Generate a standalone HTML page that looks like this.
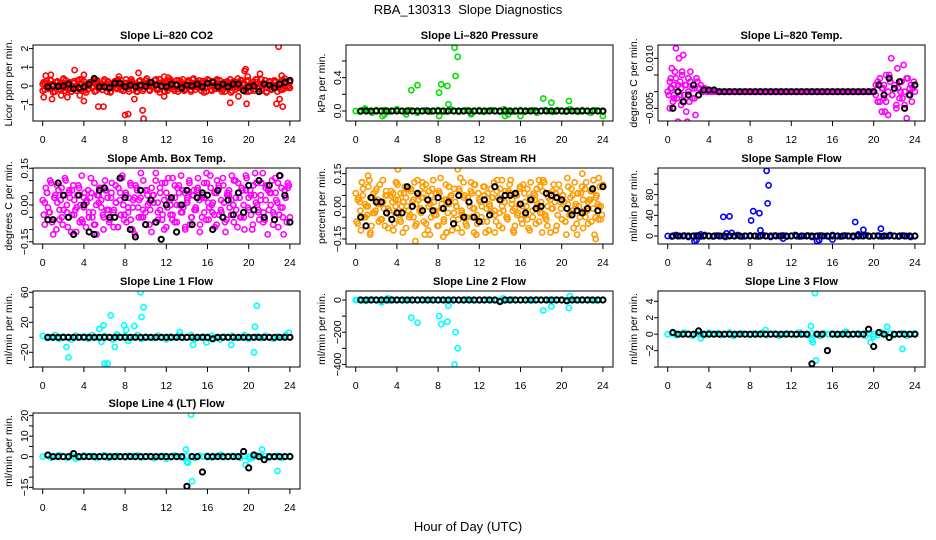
<!DOCTYPE html>
<html><head><meta charset="utf-8"><title>RBA_130313 Slope Diagnostics</title>
<style>
html,body{margin:0;padding:0;background:#fff;}
svg{display:block;font-family:"Liberation Sans",Arial,sans-serif;}
</style></head>
<body>
<svg id="chart" width="936" height="540" viewBox="0 0 936 540" xmlns="http://www.w3.org/2000/svg">
<rect x="0" y="0" width="936" height="540" fill="#fff"/>
<text x="468" y="14" text-anchor="middle" font-size="13">RBA_130313&#160; Slope Diagnostics</text>
<text x="468" y="531" text-anchor="middle" font-size="13">Hour of Day (UTC)</text>
</svg>
<script>
// ---------- data ----------
const xTicks = [0,4,8,12,16,20,24];

// CO2 (ppm/min)
const co2Band1 = [0.1,-0.2,0.25,-0.1,0.3,0,-0.3,0.2,-0.15,0.1,0.35,-0.25,0.05,0.2,-0.3,0.15,-0.05,0.3,-0.2,0.1,0.25,-0.35,0,0.2,-0.1,0.3,-0.25,0.15,0.05,-0.2,0.35,-0.1,0.2,-0.3,0.1,0.25,-0.15,0,0.3,-0.25,0.15,-0.05,0.2,0.35,-0.2,0.1,-0.3,0.25,0,-0.15,0.3,0.1,-0.25,0.2,-0.05,0.35,-0.2,0.15,0,-0.3,0.25,-0.1,0.2,0.05,-0.25,0.3,-0.15,0.1,0.35,-0.2,0,0.25,-0.3,0.15,-0.05,0.2,0.3,-0.25,0.1,-0.1,0.35,0,-0.2,0.25,-0.15,0.1,0.3,-0.3,0.2,-0.05,0.15,0.35,-0.25,0,0.2,-0.1,0.3,-0.2,0.1,0.25,-0.3,0.05,0.2,-0.15,0.35,0,-0.25,0.15,0.3,-0.1,0.2,-0.2,0.05,0.25,-0.3,0.1,0.3,-0.15,0.2,0,-0.1];
const co2Band2 = [-0.25,0.15,-0.05,0.3,-0.35,0.2,0.05,-0.2,0.4,-0.1,0.15,-0.3,0.25,0,-0.15,0.35,-0.25,0.1,0.2,-0.05,-0.3,0.3,0.1,-0.2,0.05,0.25,-0.35,0.15,-0.1,0.3,0,-0.25,0.35,-0.15,0.2,0.05,-0.3,0.25,-0.05,0.1,0.4,-0.2,0,0.3,-0.1,-0.35,0.2,0.15,-0.25,0.35,-0.05,0.1,-0.3,0.25,0.05,-0.15,0.3,-0.2,0.4,0,-0.1,0.2,-0.35,0.15,0.3,-0.25,0.05,0.35,-0.15,0.1,-0.3,0.25,0,0.2,-0.2,0.4,-0.05,0.15,-0.3,0.3,0.1,-0.25,0.2,-0.1,0.35,0.05,-0.35,0.25,-0.15,0.3,0,0.1,-0.2,0.4,-0.05,0.2];
const co2Band3 = [0.2,0,-0.15,0.1,-0.3,0.25,0.05,-0.1,0.3,-0.2,0,0.15,-0.25,0.35,0.1,-0.05,-0.2,0.2,0,0.3,-0.15,0.05,0.25,-0.3,0.1,-0.1,0.2,0.35,-0.2,0,0.15,-0.3,0.25,0.05,-0.1,0.3,-0.25,0.1,0.2,-0.05,0,-0.2,0.35,0.15,-0.3,0.05,0.25,-0.15,0.1,0.3,-0.1,-0.25,0.2,0,0.35,-0.2,0.1,-0.05,0.25,-0.3,0.15,0.05,-0.15,0.3,0,-0.2,0.2,0.1,-0.35,0.25,-0.05,0.15,0.3,-0.1,0,-0.25,0.2,0.35,-0.15,0.05,0.1,-0.3,0.25,-0.05,0.2,0,-0.2,0.3,0.15,-0.1];
const co2OutT = [0.1,0.3,0.8,0.9,1.8,2.4,3.1,3.6,4.0,4.0,5.4,5.9,7.4,8.0,8.3,8.9,9.3,9.7,9.8,11.8,11.8,12.2,18.2,19.0,19.6,19.7,19.8,19.9,21.1,22.7,22.9,23.0,23.2,23.3];
const co2OutV = [-0.6,0.55,0.6,-0.7,-0.5,-0.6,0.85,-0.5,-0.8,0.6,-1.1,-1.1,0.5,-1.55,-1.5,-0.7,0.7,-1.3,-1.75,-0.55,0.5,0.45,-0.9,-0.55,0.8,0.9,-0.95,0.5,0.65,-0.95,2.1,-0.7,0.55,-1.1];
const co2Black = [-0.05,0,-0.02,0,0.1,-0.15,-0.1,-0.05,0.1,0.4,-0.05,-0.05,-0.1,0.15,0.15,-0.05,0.05,-0.05,0.05,-0.02,0.2,0.05,0,-0.05,0.1,0.05,-0.1,0.05,0,0.1,-0.05,0.15,0.2,-0.05,0.1,-0.05,0.1,0.1,-0.25,-0.05,0,-0.3,0.1,0.05,-0.1,0.1,0.2,0.3];

// Pressure (kPa/min)
const presBase = [0,-0.01,0.01,0,-0.02,0.01,0,0.01,-0.01,0,0.02,0,-0.01,0.01,0,-0.02,0,0.01,-0.01,0,0.01,0,-0.01,0.02,0,-0.01,0,0.01,-0.02,0,0.01,-0.01,0,0.01,0,-0.01,0.02,0,-0.01,0,0.01,-0.01,0,0.01,-0.02,0,0.01,0,-0.01,0.01,0,-0.01,0.02,0,-0.01,0.01,0,-0.02,0.01,0,-0.01];
const presOutT = [0.9,2.6,2.8,5.4,6.0,8.1,8.3,8.1,8.9,9.0,9.6,9.7,9.9,11.2,14.5,14.8,16.0,18.2,19.0,20.7,24.0,4.9];
const presOutV = [0.03,-0.06,-0.04,0.25,0.31,0.22,0.32,-0.06,0.3,0.08,0.76,0.42,0.65,-0.04,-0.06,-0.04,-0.06,0.15,0.1,0.12,-0.06,-0.04];
const presBlack = [0,0,0,0,0,0,0,0,0,0,0,0,0,0,0,0,0,0,0,0,0,0,0,0,0,0,0,0,0,0,0,0,0,0,0,0,0,0,0,0,0,0,0,0,0,0,0,0];

// Li-820 Temp (0.001 degC/min)
const tempBase = [0,3,1,-2,4,2,-1,5,-3,2,0,3,-2,1,4,-1,2,0,1,0,0,0,0,0,0,0,0,0,0,0,0,0,0,0,0,0,0,0,0,0,0,0,0,0,0,0,0,0,0,0,0,0,0,0,0,0,0,0,0,0,0,0,0,0,0,0,0,0,0,0,0,0,0,0,0,0,0,0,0,0,0,0,0,0,0,0,0,0,0,0,0,0,0,0,0,0,0,0,0,0,0,2,-3,4,1,-2,5,0,3,-1,2,-4,1,3,-2,0,4,-1,2,1,0];
const tempOutT = [0.1,0.2,0.3,0.4,0.5,0.6,0.7,0.8,0.9,1.0,1.1,1.2,1.3,1.4,1.5,1.6,1.7,1.8,1.9,2.0,2.1,2.2,2.4,2.6,2.7,2.9,3.1,3.3,0.3,0.6,1.3,2.5,20.2,20.4,20.6,20.8,20.9,21.1,21.2,21.4,21.5,21.7,21.8,22.0,22.2,22.3,22.5,22.7,22.9,23.0,23.2,23.3,23.5,23.7,23.9,21.0,22.6];
const tempOutV = [-1,-5,4,7,-3,2,6,13,-2,-9,10,3,-4,6,11,-1,2,-6,-9,4,-3,6,1,-2,-7,3,1,0,1,-1,1,2,-1,3,-3,-6,1,-6,-3,-7,5,10,-1,2,-5,7,-2,3,8,-4,-8,4,1,-3,3,2,0];
const tempBlack = [-5,0,-3,-1,2,-1,0.5,0.5,0.5,0,0,0,0,0,0,0,0,0,0,0,0,0,0,0,0,0,0,0,0,0,0,0,0,0,0,0,0,0,0,0,2,-1,4,1,3,-5,-1,2];

// Amb box temp (0.01 degC/min)
const ambBand1 = [2,-8,5,-3,9,-12,4,1,-6,7,-2,10,-9,3,6,-4,-11,8,0,-7,5,2,-5,11,-3,-8,4,7,-1,-10,6,3,-6,9,-2,1,-9,5,12,-4,-7,3,8,-1,-12,6,2,-5,10,-3,4,-8,7,1,13,-6,-2,9,-10,5,3,-4,11,-7,0,8,-3,6,-9,2,10,-5,4,-1,7,-11,3,9,-6,1,12,-3,5,-8,8,-2,11,-7,4,6,-4,0,10,-9,3,7,-5,12,-1,6,-10,4,9,-3,2,13,-6,8,-2,5,-8,11,1,-4,7,-12,3,9,-5];
const ambBand2 = [-4,7,-1,10,-6,3,-10,6,2,-8,11,-3,5,-11,8,-2,4,-7,12,-1,-9,6,3,-5,9,-12,1,7,-4,10,-2,-7,5,-3,8,-9,2,11,-6,4,-1,9,-10,3,7,-5,13,-2,-8,6,1,-11,4,10,-3,7,-6,2,-9,11,0,-4,8,-7,5,12,-1,-10,3,9,-5,6,-2,11,-8,4,-3,13,-6,7,1,-9,10,-4,2,8,-11,5,-1,12,-7,3,9,-5,6,-10,11,-2,4,-8,13,0,-6,9,-3,7,-12,5,10,-4,2,-9,12,-1,6,-7,8];
const ambBand3 = [1,5,-3,-7,3,8,-2,-5,4,0,6,-4,2,-1,7,-6,3,1,-3,5,-8,0,4,2,-5,6,-2,3,-9,1,7,-4,0,5,-3,-6,2,8,-1,3,-5,6,0,-2,4,-7,1,5,-4,9,-1,2,-6,3,7,0,-3,5,1,-8,4,-2,6,2,-5,3,9,-1,0,-4,5,7,-3,1,-6,4,2,10,-2,5,-5,0,6,3,-4,8,1,-2,4,-7,2,6,0,-3,5,9,-1,-5,3,7];
const ambBlack = [-6,-6,9,4,-5,-12,4,0,-11,-12,6,7,-5,-5,11,3,-10,-13,6,-8,2,-7,-14,0,3,-11,0,6,-8,3,5,4,-10,6,-5,2,-4,5,-3,8,-2,10,-5,8,-6,12,4,-7];

// Gas stream RH (0.01 %/min)
const rhBand1 = [6,-8,2,11,-5,0,9,-12,4,-3,8,-7,1,12,-9,5,-2,7,-11,3,10,-6,0,6,-10,8,-4,2,11,-8,5,-1,9,-13,3,7,-5,12,-2,-9,6,1,-7,10,-3,4,-11,8,0,-6,13,-4,5,-9,2,7,-1,10,-8,3,-5,9,-12,6,0,-3,11,-7,4,8,-10,2,-5,7,12,-2,-9,5,1,-6,10,-4,8,-11,3,6,-8,0,9,-3,11,-6,4,-12,7,2,-9,10,-1,5,-7,13,-4,8,-10,1,6,-5,9,-2,11,-8,3,7,-13,5,0,-6,10];
const rhBand2 = [-7,4,-11,8,1,-4,12,-9,6,-2,3,10,-6,-1,7,-10,5,2,-8,11,-3,6,-12,9,0,-5,7,3,-9,12,-2,4,-7,10,-11,1,8,-4,6,-9,13,-1,3,-12,9,5,-6,2,-10,7,-3,11,-8,4,0,-5,10,-13,6,2,-7,9,-1,-11,8,4,-4,12,-9,3,-2,7,-6,10,1,-12,5,-3,9,-8,6,0,-10,11,-5,3,8,-7,2,12,-4,-9,6,-1,10,-11,4,7,-6,2,-13,9,-3,5,11,-8,0,6,-10,8,-2,3,-7,12,-5,1,9,-4];
const rhBand3 = [3,-2,5,-5,0,4,-3,7,1,-6,2,5,-1,-4,6,0,3,-7,2,4,-2,8,-5,1,3,-3,6,-8,0,5,2,-4,7,-1,-6,3,1,5,-3,0,8,-2,4,-5,2,6,-1,-4,3,0,5,-7,1,4,-2,7,-3,0,2,-5,6,3,-1,-4,8,0,2,-6,4,-2,5,1,-3,7,-5,0,3,-1,6,-4,2,5,-7,1,4,-2,0,6,-3,3,-5,2,7,-1,4,-6,0];
const rhOutT = [0.6,1.2,3.9,4.1,5.8,6.5,7.2,8.5,8.8,9.9,10.3,11.5,11.7,13.5,14.2,15.3,17.8,18.1,21.5,22.0,23.3,23.6,1.4,11.2];
const rhOutV = [11,14,11,17,-16,11,-13,-14,-12,17,-12,-12,-13,-12,12,-11,12,-12,-13,15,-15,13,-13,11];
const rhBlack = [-5,-9,4,2,2,-3,-6,-3,-3,9,0,6,-2,3,-2,4,-1,2,-8,5,-5,2,-5,-7,3,-4,9,3,5,5,6,1,-3,3,-1,0,6,5,4,3,-1,-4,-2,-3,-1,8,-2,9];

// Sample flow (ml/min per min)
const sfBase = [0,-1,2,0,1,-2,0,1,-1,2,0,-1,1,0,-2,1,0,2,-1,0,1,0,-1,2,0,-2,1,0,1,-1,0,2,-1,0,1,-2,0,1,0,-1,2,0,-1,1,0,-2,1,0,2,-1,0,1,-1,0,2,0,-1,1,0,-2,0];
const sfOutT = [5.4,6.0,8.1,8.3,8.9,9.0,9.6,9.8,9.7,18.2,19.0,20.7,2.6,2.8,14.5,14.7,16.0,11.2,5.7,6.2,3.2,18.5];
const sfOutV = [37,38,30,48,44,11,126,98,63,27,12,14,-10,-8,-10,-8,-7,-5,5,6,3,3];
const sfBlack = [0,0,0,0,0,0,0,0,0,0,0,0,0,0,0,0,0,0,0,0,0,0,0,0,0,0,0,0,0,0,0,0,0,0,0,0,0,0,0,0,0,0,0,0,0,0,0,0];

// Line 1 flow
const l1Base = [2,-1,0,3,-2,1,0,-3,2,0,1,-2,3,0,-1,2,0,-3,1,0,2,-1,0,3,-2,1,0,-1,2,0,-3,1,0,2,-1,0,3,-2,0,1,-1,2,0,-3,1,0,2,-1,0,3,-2,0,1,-1,2,0,-2,1,0,3,0];
const l1OutT = [2.3,2.5,5.5,5.9,6.0,6.3,6.6,5.7,7.0,7.9,8.1,8.9,9.5,9.6,9.8,13.3,14.6,18.3,20.5,20.6,20.8,23.9,15.9,8.3,7.2];
const l1OutV = [-13,-27,11,16,-35,-35,29,-6,-13,16,10,15,60,27,40,7,-10,-10,-20,14,42,6,-7,-5,4];
const l1Black = [0,0,0,0,0,0,0,0,0,0,0,0,0,0,0,0,0,0,0,0,0,0,0,0,0,0,0,0,0,0,0,0,-2,0,0,0,0,0,0,0,0,0,0,0,0,0,0,0];

// Line 2 flow
const l2Base = [0,2,-2,0,3,-1,0,1,-3,0,2,0,-1,1,0,-2,3,0,1,-1,0,2,-2,0,1,0,-1,3,0,-2,1,0,2,-1,0,1,-3,0,2,0,-1,1,0,-2,3,0,1,-1,0,2,0,-2,1,0,-1,3,0,1,-2,0,2];
const l2OutT = [3.1,2.5,5.4,6.0,8.1,8.3,8.9,9.0,9.6,9.7,9.9,18.2,19.0,20.7,20.8,14.3,0.1,1.0,3.4];
const l2OutV = [10,-15,-110,-140,-100,-150,-135,-35,-400,-200,-300,-65,-40,-50,25,10,0,-5,5];
const l2Black = [0,0,0,0,0,0,0,0,0,0,0,0,0,0,0,0,0,0,0,0,0,0,0,0,0,0,0,-10,0,0,0,0,0,0,0,0,0,0,0,0,-5,0,0,0,0,0,0,0];

// Line 3 flow
const l3Base = [0,0.1,-0.1,0,0.2,0,-0.2,0.1,0,-0.1,0.2,0,0.1,-0.1,0,0.2,-0.2,0,0.1,0,-0.1,0.1,0,0.2,-0.1,0,0.1,-0.2,0,0.1,0,-0.1,0.2,0,-0.1,0.1,0,-0.2,0.1,0,0.1,-0.1,0,0.2,-0.1,0,0.1,0,-0.2,0.1,0,-0.1,0.2,0,0.1,-0.1,0,0.1,-0.2,0,0.1];
const l3OutT = [13.9,14.1,14.3,14.4,19.7,21.3,22.8,3.2,9.5,14.0,17.3,20.0];
const l3OutV = [1,-1,5,-3.2,-1,0.9,-1.8,-0.5,0.5,-0.7,0.3,-0.3];
const l3Black = [0.2,0,0,0,0,0.4,0,0,0,0,0,0,0,0,0,0,0,0,0,0,0,0,0,0,0,0,0,-3.6,0,0,-2,0,0,0,0,0,0,0,0.6,-1.5,0.2,0,-0.4,0,0,0,0,0];

// Line 4 (LT) flow
const l4Base = [0,0.5,-0.5,0,0.8,0,-0.6,0.3,0,-0.4,0.6,0,0.3,-0.5,0,0.7,-0.6,0,0.4,0,-0.3,0.5,0,0.6,-0.4,0,0.3,-0.7,0,0.4,0,-0.3,0.6,0,-0.5,0.3,0,-0.6,0.4,0,0.5,-0.4,0,0.7,-0.3,0,0.4,0,-0.6,0.3,0,-0.4,0.6,0,0.3,-0.5,0,0.4,-0.6,0,0.3];
const l4OutT = [13.9,14.1,14.4,14.5,19.7,21.3,22.8,3.2,12.0,14.0,17.3,20.1];
const l4OutV = [3.5,-3,20.5,-12,-4,3.5,-7,-1,-1,-2.5,1,-1];
const l4Black = [0.8,0,0,0,0,1.5,0,0,0,0,0,0,0,0,0,0,0,0,0,0,0,0,0,0,0,0,0,-14.5,0,0,-7.5,0,0,0,0,0,0,0,2.5,-5.5,0.8,0,-1.5,0,0,0,0,0];

// ---------- drawing ----------
const NS = "http://www.w3.org/2000/svg";
const svg = document.getElementById('chart');
function mk(tag, attrs, parent){
  const e = document.createElementNS(NS, tag);
  for (const k in attrs) e.setAttribute(k, attrs[k]);
  (parent||svg).appendChild(e);
  return e;
}
const BW = 267, BH = 76;
function grid(n, t0, t1){ const a=[]; for(let i=0;i<n;i++) a.push(t0 + (n>1 ? i*(t1-t0)/(n-1) : 0)); return a; }

function panel(p){
  const g = mk('g', {});
  
  
  const xs = t => p.x0 + 9.7 + t*10.3;
  const ys = v => p.y0 + BH*(p.ymax - v)/(p.ymax - p.ymin);
  const tt = mk('text', {x: p.x0 + BW/2, y: p.y0 - 6, 'text-anchor':'middle', 'font-size':11, 'font-weight':'bold'}, g);
  tt.textContent = p.title;
  
  
  const yl = mk('text', {transform:`translate(${p.x0-21},${p.y0+BH/2}) rotate(-90)`, 'text-anchor':'middle', 'font-size':10.5}, g);
  yl.textContent = p.ylab;
  
  
  const xa = mk('g', {}, g);
  
  
  xTicks.forEach(t => {
    mk('line', {x1:xs(t), x2:xs(t), y1:p.y0+BH, y2:p.y0+BH+5, stroke:'#000', 'stroke-width':1}, xa);
    const lb = mk('text', {x:xs(t), y:p.y0+BH+22, 'text-anchor':'middle', 'font-size':10.5}, xa);
    lb.textContent = t;
    
    
  });
  const ya = mk('g', {}, g);
  
  
  p.yticks.forEach((v, i) => {
    mk('line', {x1:p.x0-4, x2:p.x0, y1:ys(v), y2:ys(v), stroke:'#000', 'stroke-width':1}, ya);
    if (p.ylabels[i] !== '') {
      const lb = mk('text', {transform:`translate(${p.x0-5},${ys(v)}) rotate(-90)`, 'text-anchor':'middle', 'font-size':10.5}, ya);
      lb.textContent = p.ylabels[i];
      
      
    }
  });
  const clip = 'clip-' + p.name;
  const cp = mk('clipPath', {id: clip}, g);
  mk('rect', {x:p.x0, y:p.y0, width:BW, height:BH}, cp);
  const pts = mk('g', {'clip-path':`url(#${clip})`}, g);
  
  
  p.series.forEach(s => {
    const sg = mk('g', {fill:'none', stroke:s.color, 'stroke-width': s.color === '#000' ? 2 : 1.6}, pts);
    
    
    s.v.forEach((v, i) => {
      const c = mk('circle', {cx: xs(s.t[i]).toFixed(1), cy: ys(v).toFixed(1), r: 2.6}, sg);
      
      
    });
  });
  const box = mk('rect', {x:p.x0, y:p.y0, width:BW, height:BH, fill:'none', stroke:'#000', 'stroke-width':1}, g);
  
  
}

const C1=33, C2=346, C3=658, R1=45, R2=168, R3=291, R4=413;
const bt = grid(48, 0.5, 24);
function base(arr){ return grid(arr.length, 0, 24); }
function off(arr){ return grid(arr.length, 0.1, 23.9); }

panel({name:'panel-co2', x0:C1, y0:R1, ymin:-1.87, ymax:2.19, title:'Slope Li\u2013820 CO2', ylab:'Licor ppm per min.',
  yticks:[-1,0,1,2], ylabels:['\u22121','0','1','2'],
  series:[{name:'co2-band-a',color:'#ff0000',t:base(co2Band1),v:co2Band1},{name:'co2-band-b',color:'#ff0000',t:base(co2Band2),v:co2Band2},
          {name:'co2-band-c',color:'#ff0000',t:off(co2Band3),v:co2Band3},
          {name:'co2-outliers',color:'#ff0000',t:co2OutT,v:co2OutV},{name:'co2-hourly',color:'#000',t:bt,v:co2Black}]});
panel({name:'panel-pressure', x0:C2, y0:R1, ymin:-0.12, ymax:0.792, title:'Slope Li\u2013820 Pressure', ylab:'kPa per min.',
  yticks:[0,0.2,0.4,0.6], ylabels:['0.0','','0.4',''],
  series:[{name:'pressure-base',color:'#00e000',t:base(presBase),v:presBase},{name:'pressure-outliers',color:'#00e000',t:presOutT,v:presOutV},
          {name:'pressure-hourly',color:'#000',t:bt,v:presBlack}]});
panel({name:'panel-li820-temp', x0:C3, y0:R1, ymin:-8.8, ymax:14.0, title:'Slope Li\u2013820 Temp.', ylab:'degrees C  per min.',
  yticks:[-5,0,5,10], ylabels:['\u22120.005','','','0.010'],
  series:[{name:'temp-base',color:'#ff00ff',t:base(tempBase),v:tempBase},{name:'temp-outliers',color:'#ff00ff',t:tempOutT,v:tempOutV},
          {name:'temp-hourly',color:'#000',t:bt,v:tempBlack}]});
panel({name:'panel-amb-temp', x0:C1, y0:R2, ymin:-15.9, ymax:15.1, title:'Slope Amb. Box Temp.', ylab:'degrees C per min.',
  yticks:[-15,-10,-5,0,5,10,15], ylabels:['\u22120.15','','','0.00','','','0.15'],
  series:[{name:'amb-band-a',color:'#ff00ff',t:base(ambBand1),v:ambBand1},{name:'amb-band-b',color:'#ff00ff',t:off(ambBand2),v:ambBand2},
          {name:'amb-band-c',color:'#ff00ff',t:grid(ambBand3.length,0.2,23.8),v:ambBand3},
          {name:'amb-hourly',color:'#000',t:bt,v:ambBlack}]});
panel({name:'panel-rh', x0:C2, y0:R2, ymin:-17.3, ymax:17.6, title:'Slope Gas Stream RH', ylab:'percent per min.',
  yticks:[-15,-10,-5,0,5,10,15], ylabels:['\u22120.15','','','0.00','','','0.15'],
  series:[{name:'rh-band-a',color:'#ff9a00',t:base(rhBand1),v:rhBand1},{name:'rh-band-b',color:'#ff9a00',t:off(rhBand2),v:rhBand2},
          {name:'rh-band-c',color:'#ff9a00',t:grid(rhBand3.length,0.2,23.8),v:rhBand3},
          {name:'rh-outliers',color:'#ff9a00',t:rhOutT,v:rhOutV},{name:'rh-hourly',color:'#000',t:bt,v:rhBlack}]});
panel({name:'panel-sample-flow', x0:C3, y0:R2, ymin:-15.5, ymax:131.5, title:'Slope Sample Flow', ylab:'ml/min per min.',
  yticks:[0,20,40,60,80,100,120], ylabels:['0','','40','','80','',''],
  series:[{name:'sample-base',color:'#0000ff',t:base(sfBase),v:sfBase},{name:'sample-outliers',color:'#0000ff',t:sfOutT,v:sfOutV},
          {name:'sample-hourly',color:'#000',t:bt,v:sfBlack}]});
panel({name:'panel-line1', x0:C1, y0:R3, ymin:-39.6, ymax:61.7, title:'Slope Line 1 Flow', ylab:'ml/min per min.',
  yticks:[-40,-20,0,20,40,60], ylabels:['','\u221220','','20','','60'],
  series:[{name:'line1-base',color:'#00ffff',t:base(l1Base),v:l1Base},{name:'line1-outliers',color:'#00ffff',t:l1OutT,v:l1OutV},
          {name:'line1-hourly',color:'#000',t:bt,v:l1Black}]});
panel({name:'panel-line2', x0:C2, y0:R3, ymin:-416, ymax:56, title:'Slope Line 2 Flow', ylab:'ml/min per min.',
  yticks:[-400,-300,-200,-100,0], ylabels:['\u2212400','','\u2212200','','0'],
  series:[{name:'line2-base',color:'#00ffff',t:base(l2Base),v:l2Base},{name:'line2-outliers',color:'#00ffff',t:l2OutT,v:l2OutV},
          {name:'line2-hourly',color:'#000',t:bt,v:l2Black}]});
panel({name:'panel-line3', x0:C3, y0:R3, ymin:-3.99, ymax:5.25, title:'Slope Line 3 Flow', ylab:'ml/min per min.',
  yticks:[-4,-2,0,2,4], ylabels:['','\u22122','0','2','4'],
  series:[{name:'line3-base',color:'#00ffff',t:base(l3Base),v:l3Base},{name:'line3-outliers',color:'#00ffff',t:l3OutT,v:l3OutV},
          {name:'line3-hourly',color:'#000',t:bt,v:l3Black}]});
panel({name:'panel-line4', x0:C1, y0:R4, ymin:-15.8, ymax:21.3, title:'Slope Line 4 (LT) Flow', ylab:'ml/min per min.',
  yticks:[-15,-10,-5,0,5,10,15,20], ylabels:['\u221215','','','0','','10','','20'],
  series:[{name:'line4-base',color:'#00ffff',t:base(l4Base),v:l4Base},{name:'line4-outliers',color:'#00ffff',t:l4OutT,v:l4OutV},
          {name:'line4-hourly',color:'#000',t:bt,v:l4Black}]});
</script>
</body></html>
